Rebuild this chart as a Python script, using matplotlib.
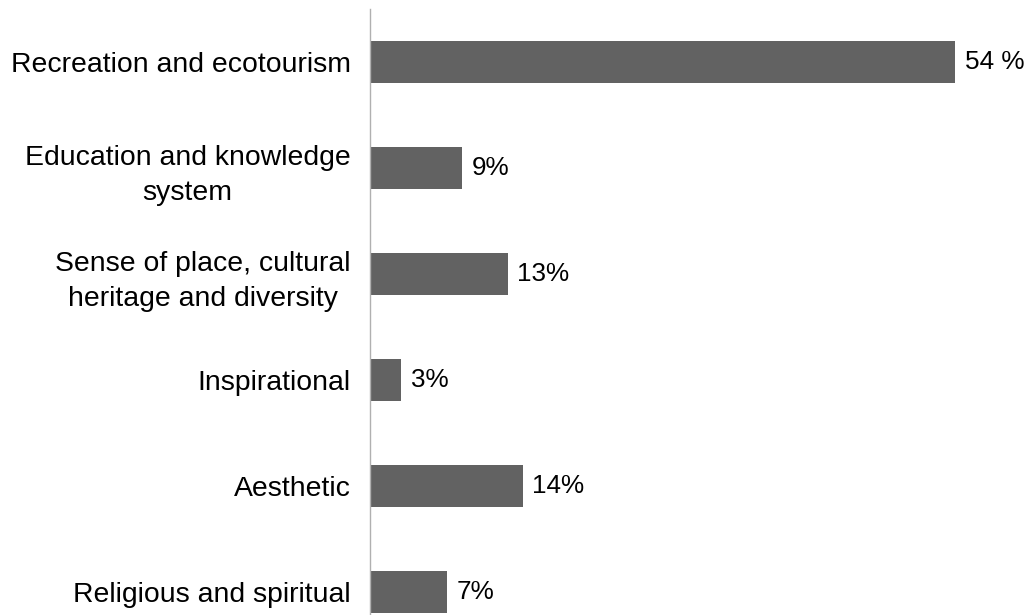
import matplotlib.pyplot as plt

# Data
categories = ['Recreation and ecotourism',
              'Education and knowledge\nsystem',
              'Sense of place, cultural\nheritage and diversity',
              'Inspirational',
              'Aesthetic',
              'Religious and spiritual']
values = [54, 8.5, 12.7, 2.9, 14.1, 7.1]
value_labels = ['54 %', '9%', '13%', '3%', '14%', '7%']

plt.rcParams['font.family'] = ['Liberation Sans', 'DejaVu Sans']

fig = plt.figure(figsize=(10.33, 6.15), dpi=100)
ax = fig.add_axes([370 / 1033, 0, 663 / 1033, 606 / 615])

pos = list(range(len(categories)))
ax.barh(pos, values, height=0.4, color='#626262')

for p, v, lab in zip(pos, values, value_labels):
    ax.text(v + 0.9, p, lab, va='center', ha='left', fontsize=18.8, color='black')

ax.set_xlim(0, 61.2)
ax.set_ylim(5.217, -0.5)
ax.set_yticks(pos)
ax.set_yticklabels(categories, fontsize=20.4, ha='right',
                   multialignment='center', linespacing=1.45)
ax.tick_params(axis='y', length=0, pad=14)
ax.set_xticks([])

for s in ['top', 'right', 'bottom']:
    ax.spines[s].set_visible(False)
ax.spines['left'].set_color('#b0b0b0')
ax.spines['left'].set_linewidth(1)

fig.savefig('out.png', dpi=100)
